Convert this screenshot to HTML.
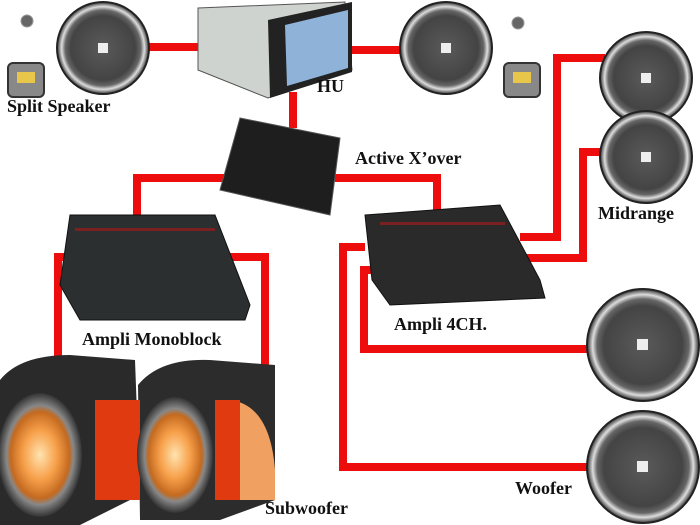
<!DOCTYPE html>
<html><head><meta charset="utf-8"><style>
html,body{margin:0;padding:0;background:#fff;}
svg{display:block;}
text{font-family:"Liberation Serif",serif;font-weight:bold;fill:#111;}
</style></head><body>
<svg width="700" height="525" viewBox="0 0 700 525" xmlns="http://www.w3.org/2000/svg">
<defs>
<radialGradient id="spk" cx="50%" cy="50%" r="50%">
<stop offset="0" stop-color="#5a5a5a"/><stop offset="0.7" stop-color="#444"/><stop offset="0.82" stop-color="#666"/><stop offset="0.9" stop-color="#ddd"/><stop offset="1" stop-color="#333"/>
</radialGradient>
<radialGradient id="cone" cx="50%" cy="50%" r="50%">
<stop offset="0" stop-color="#ffe3b0"/><stop offset="0.4" stop-color="#f7a04a"/><stop offset="0.7" stop-color="#c46a20"/><stop offset="0.8" stop-color="#888"/><stop offset="1" stop-color="#333"/>
</radialGradient>
</defs>
<g stroke="#ee0d0d" stroke-width="8" fill="none" stroke-linejoin="miter">
<path d="M146 47 H205"/>
<path d="M348 50 H405"/>
<path d="M293 92 V128"/>
<path d="M225 178 H137 V222"/>
<path d="M335 178 H437 V212"/>
<path d="M225 257 H265 V365"/>
<path d="M80 257 H58 V360"/>
<path d="M520 237 H557 V58 H605"/>
<path d="M520 258 H583 V152 H605"/>
<path d="M365 247 H343 V467 H595"/>
<path d="M385 270 H364 V349 H595"/>
</g>
<!-- tweeters -->
<circle cx="27" cy="21" r="6" fill="#666" stroke="#999"/>
<circle cx="518" cy="23" r="6" fill="#666" stroke="#999"/>
<!-- crossover boxes -->
<g fill="#888" stroke="#333" stroke-width="2">
<rect x="8" y="63" width="36" height="34" rx="5"/>
<rect x="504" y="63" width="36" height="34" rx="5"/>
</g>
<rect x="17" y="72" width="18" height="11" fill="#e8c64a"/>
<rect x="513" y="72" width="18" height="11" fill="#e8c64a"/>
<!-- speakers -->
<g>
<circle cx="103" cy="48" r="46" fill="url(#spk)" stroke="#222" stroke-width="2"/>
<circle cx="446" cy="48" r="46" fill="url(#spk)" stroke="#222" stroke-width="2"/>
<circle cx="646" cy="78" r="46" fill="url(#spk)" stroke="#222" stroke-width="2"/>
<circle cx="646" cy="157" r="46" fill="url(#spk)" stroke="#222" stroke-width="2"/>
<circle cx="643" cy="345" r="56" fill="url(#spk)" stroke="#222" stroke-width="2"/>
<circle cx="643" cy="467" r="56" fill="url(#spk)" stroke="#222" stroke-width="2"/>
<rect x="98" y="43" width="10" height="10" fill="#eee"/>
<rect x="441" y="43" width="10" height="10" fill="#eee"/>
<rect x="641" y="73" width="10" height="10" fill="#eee"/>
<rect x="641" y="152" width="10" height="10" fill="#eee"/>
<rect x="637" y="339" width="11" height="11" fill="#eee"/>
<rect x="637" y="461" width="11" height="11" fill="#eee"/>
</g>
<!-- HU -->
<polygon points="198,8 345,2 352,70 268,98 198,70" fill="#cfd3cf" stroke="#555"/>
<polygon points="268,20 352,2 352,72 270,98" fill="#222"/>
<polygon points="285,25 348,10 348,68 287,86" fill="#8fb3d8"/>
<!-- crossover -->
<polygon points="240,118 340,138 330,215 220,190" fill="#1e1e1e" stroke="#555"/>
<!-- mono amp -->
<polygon points="70,215 215,215 250,305 245,320 80,320 60,285" fill="#2b2f2f" stroke="#111"/>
<rect x="75" y="228" width="140" height="3" fill="#7a2020"/>
<!-- 4ch amp -->
<polygon points="365,215 500,205 540,280 545,298 390,305 372,280" fill="#2a2a2a" stroke="#111"/>
<rect x="380" y="222" width="125" height="3" fill="#7a2020"/>
<!-- subwoofers -->
<g>
<path d="M0 380 Q20 355 70 355 L135 360 L140 495 L80 525 L0 525 Z" fill="#2a2a2a"/>
<path d="M138 385 Q160 358 210 360 L275 365 L275 500 L220 520 L140 520 Z" fill="#2c2c2c"/>
<rect x="95" y="400" width="45" height="100" fill="#e03a10"/>
<path d="M230 400 Q270 405 275 470 L275 500 L230 500 Z" fill="#f0a060"/>
<rect x="215" y="400" width="25" height="100" fill="#e03a10"/>
<ellipse cx="40" cy="455" rx="42" ry="62" fill="url(#cone)"/>
<ellipse cx="175" cy="455" rx="38" ry="58" fill="url(#cone)"/>
</g>
<!-- labels -->
<text x="7" y="112" font-size="18">Split Speaker</text>
<text x="317" y="92" font-size="18">HU</text>
<text x="355" y="164" font-size="18">Active X’over</text>
<text x="598" y="219" font-size="18">Midrange</text>
<text x="82" y="345" font-size="18">Ampli Monoblock</text>
<text x="394" y="330" font-size="18">Ampli 4CH.</text>
<text x="515" y="494" font-size="18">Woofer</text>
<text x="265" y="514" font-size="18">Subwoofer</text>
</svg>
</body></html>
